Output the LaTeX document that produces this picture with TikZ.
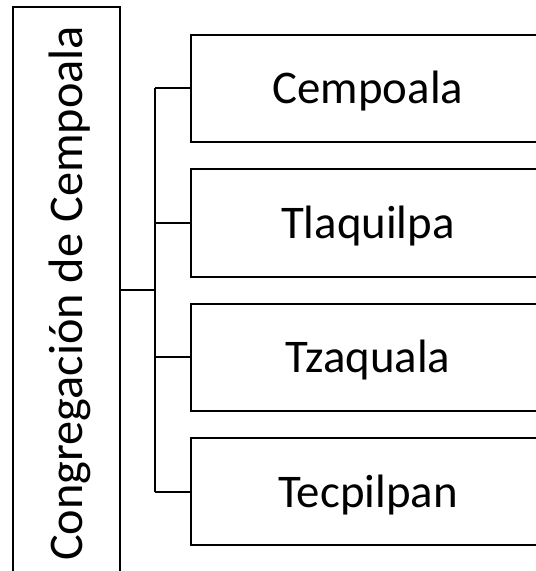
\documentclass[tikz,border=0pt]{standalone}
\usepackage{fontspec}
\setmainfont{Carlito}
\begin{document}
\begin{tikzpicture}[x=1bp,y=-1bp,
  box/.style={draw=black,line width=2bp,minimum width=354bp,minimum height=107bp,inner sep=0pt,text height=31bp,text depth=0pt,font=\fontsize{47}{56}\selectfont},
  leftbox/.style={draw=black,line width=2bp,minimum width=107bp,minimum height=600bp,inner sep=0pt},
  conn/.style={draw=black,line width=2bp}]
\useasboundingbox (0,0) rectangle (536,571);
\node[leftbox] (L) at (66.5,307) {};
\node[rotate=90,anchor=base,font=\fontsize{48.5}{56}\selectfont,inner sep=0pt] (Lt) at (82,293.5) {Congregación de Cempoala};
\node[box] (b1) at (368,88.5) {Cempoala};
\node[box] (b2) at (368,223) {Tlaquilpa};
\node[box] (b3) at (368,357) {Tzaquala};
\node[box] (b4) at (368,491.5) {Tecpilpan};
\coordinate (j) at (155,290);
\coordinate (t1) at (155,88.5);
\coordinate (t4) at (155,491.5);
\draw[conn] (L.east |- j) -- (j);
\draw[conn] (t1) -- (t4);
\draw[conn] (t1) -- (b1.west);
\draw[conn] (b2.west -| j) -- (b2.west);
\draw[conn] (b3.west -| j) -- (b3.west);
\draw[conn] (t4) -- (b4.west);
\end{tikzpicture}
\end{document}
